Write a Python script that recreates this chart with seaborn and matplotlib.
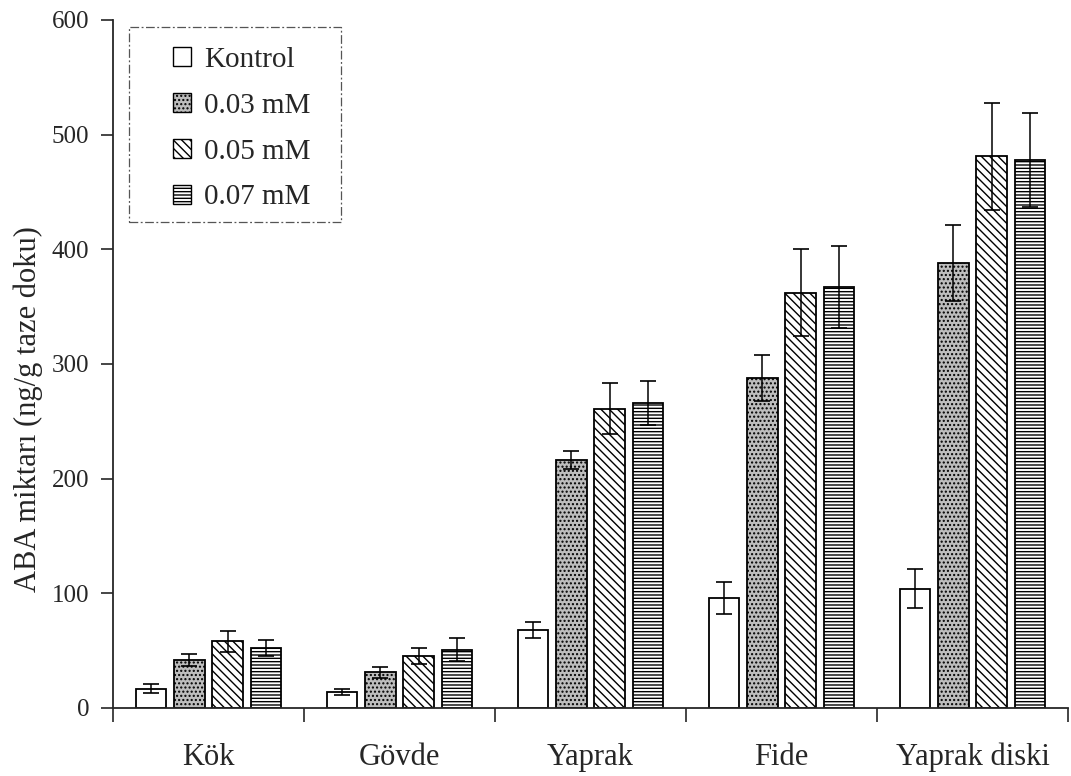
import numpy as np
import pandas as pd
import matplotlib
matplotlib.use("Agg")
import matplotlib.pyplot as plt
import seaborn as sns
from matplotlib.patches import Patch, Rectangle

# data
groups = ["Kök", "Gövde", "Yaprak", "Fide", "Yaprak diski"]
doses = ["Kontrol", "0.03 mM", "0.05 mM", "0.07 mM"]
kontrol = [17, 14, 68, 96, 104]
mm003 = [42, 31, 216, 288, 388]
mm005 = [58, 45, 261, 362, 481]
mm007 = [52, 51, 266, 367, 478]
err_kontrol = [4, 3, 7, 14, 17]
err_003 = [5, 5, 8, 20, 33]
err_005 = [9, 7, 22, 38, 47]
err_007 = [7, 10, 19, 36, 41]

values = [kontrol, mm003, mm005, mm007]
errors = [err_kontrol, err_003, err_005, err_007]

rows = []
for d, vals in zip(doses, values):
    for g, v in zip(groups, vals):
        rows.append({"grup": g, "doz": d, "deger": v})
df = pd.DataFrame(rows)

sns.set_style("ticks")
plt.rcParams["font.family"] = ["Liberation Serif", "DejaVu Serif"]
plt.rcParams["hatch.linewidth"] = 1.0

styles = {
    "Kontrol": dict(fc="white", hatch=""),
    "0.03 mM": dict(fc="#bdbdbd", hatch="...."),
    "0.05 mM": dict(fc="white", hatch="\\\\\\\\"),
    "0.07 mM": dict(fc="white", hatch="-----"),
}

fig = plt.figure(figsize=(10.71, 7.76), dpi=100)
ax = fig.add_axes([113 / 1071, 68 / 776, 955 / 1071, 688 / 776])

sns.barplot(data=df, x="grup", y="deger", hue="doz", order=groups,
            hue_order=doses, width=0.8, gap=0.2, errorbar=None,
            edgecolor="black", linewidth=1.3, ax=ax, legend=False)

for cont, d, errs in zip(ax.containers, doses, errors):
    for bar, e in zip(cont, errs):
        bar.set_facecolor(styles[d]["fc"])
        bar.set_hatch(styles[d]["hatch"])
        bar.set_edgecolor("black")
        cx = bar.get_x() + bar.get_width() / 2
        ax.errorbar(cx, bar.get_height(), yerr=e, fmt="none", ecolor="black",
                    elinewidth=1.1, capsize=5.5, capthick=1.2, zorder=5)

ax.set_xlim(-0.5, 4.5)
ax.set_ylim(0, 600)
ax.set_yticks([0, 100, 200, 300, 400, 500, 600])
ax.set_xticks(range(len(groups)))
ax.set_xticklabels(groups, fontsize=22)
ax.set_xticks(np.arange(-0.5, 5.0, 1.0), minor=True)
ax.tick_params(axis="x", which="major", length=0, pad=25)
ax.tick_params(axis="x", which="minor", length=10, width=1.2, direction="out")
ax.tick_params(axis="y", length=9, width=1.2, direction="out", labelsize=18, pad=8)
ax.set_xlabel("")
ax.set_ylabel("ABA miktarı (ng/g taze doku)", fontsize=22)
ax.yaxis.set_label_coords(-0.073, 0.435)
for s in ["top", "right"]:
    ax.spines[s].set_visible(False)
for s in ["left", "bottom"]:
    ax.spines[s].set_linewidth(1.3)

handles = [Patch(facecolor=styles[d]["fc"], hatch=styles[d]["hatch"],
                 edgecolor="black", label=d) for d in doses]
leg = ax.legend(handles=handles, loc="upper left",
                bbox_to_anchor=(173 / 1071, 1 - 47 / 776),
                bbox_transform=fig.transFigure, borderaxespad=0, borderpad=0,
                fontsize=21, handlelength=0.62, handleheight=0.62,
                handletextpad=0.45, labelspacing=0.68, frameon=False)

# dashed legend frame as in the scanned original
frame = Rectangle((129 / 1071, 1 - 222 / 776), 212 / 1071, 195 / 776,
                  transform=fig.transFigure, fill=False, edgecolor="#555555",
                  linewidth=0.9, linestyle=(0, (7, 2, 1.5, 2)))
fig.add_artist(frame)

fig.savefig("out.png", dpi=100)
